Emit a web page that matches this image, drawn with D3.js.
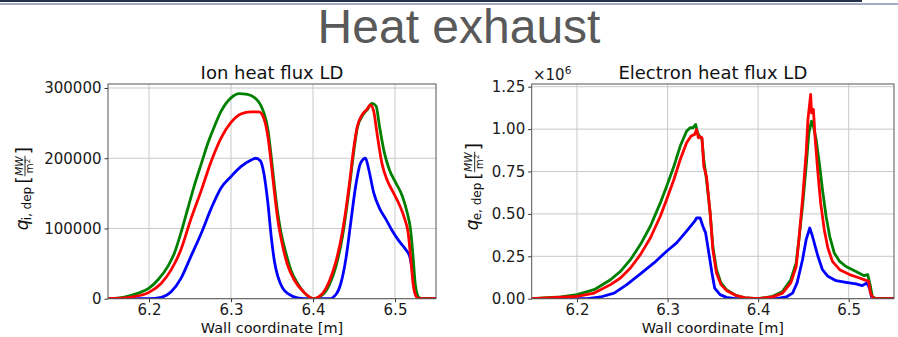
<!DOCTYPE html>
<html>
<head>
<meta charset="utf-8">
<script src="https://cdn.jsdelivr.net/npm/d3@7.9.0/dist/d3.min.js"></script>
<style>
  body { margin: 0; background: #fff; }
  svg { display: block; font-family: "DejaVu Sans", sans-serif; }
</style>
</head>
<body>
<svg id="chart" width="898" height="337"></svg>
<script>
// ---- data ----
const xTicks = [6.2, 6.3, 6.4, 6.5];
const ionTicks = [0, 100000, 200000, 300000];
const elTicks = [0, 0.25, 0.5, 0.75, 1.0, 1.25];

// ion heat flux [x, q]
const ionGreen = [[6.15,0],[6.17,2400],[6.187,8000],[6.2,15000],[6.211,27000],[6.223,46000],[6.231,65000],[6.239,94000],[6.247,127000],[6.255,160000],[6.264,193000],[6.272,222000],[6.28,246000],[6.288,267000],[6.3,286000],[6.31,292000],[6.32,291000],[6.33,285000],[6.336,276000],[6.34,265000],[6.345,241000],[6.349,203000],[6.353,160000],[6.357,122000],[6.361,94000],[6.367,65000],[6.373,41000],[6.381,22000],[6.389,9000],[6.395,3000],[6.4,0],[6.412,6000],[6.42,20000],[6.428,46000],[6.436,89000],[6.444,155000],[6.45,212000],[6.454,243000],[6.46,260000],[6.466,269000],[6.472,278000],[6.477,274000],[6.481,246000],[6.487,208000],[6.493,184000],[6.501,165000],[6.509,146000],[6.515,122000],[6.519,98000],[6.522,60000],[6.525,18000],[6.529,2000],[6.533,0],[6.55,0]];
const ionRed = [[6.15,0],[6.179,2400],[6.2,9000],[6.215,22000],[6.227,41000],[6.239,70000],[6.251,113000],[6.264,155000],[6.276,196000],[6.288,229000],[6.3,251000],[6.312,263000],[6.324,266000],[6.334,266000],[6.34,257000],[6.345,231000],[6.349,193000],[6.353,151000],[6.357,113000],[6.363,75000],[6.369,48000],[6.377,27000],[6.389,9000],[6.395,3000],[6.4,0],[6.412,8000],[6.42,25000],[6.428,53000],[6.436,96000],[6.444,160000],[6.45,217000],[6.454,245000],[6.46,262000],[6.466,270000],[6.47,276000],[6.474,267000],[6.478,236000],[6.484,193000],[6.49,170000],[6.498,151000],[6.506,132000],[6.512,113000],[6.516,94000],[6.519,60000],[6.522,22000],[6.526,3000],[6.53,0],[6.55,0]];
const ionBlue = [[6.15,0],[6.2,0],[6.215,2000],[6.227,10000],[6.239,29000],[6.251,60000],[6.264,94000],[6.276,129000],[6.288,158000],[6.3,174000],[6.312,188000],[6.324,197000],[6.33,200000],[6.336,196000],[6.34,179000],[6.345,136000],[6.349,89000],[6.353,53000],[6.357,32000],[6.363,15000],[6.371,6000],[6.381,1000],[6.39,0],[6.42,0],[6.428,6000],[6.434,22000],[6.44,56000],[6.446,108000],[6.452,160000],[6.458,193000],[6.464,200000],[6.468,184000],[6.474,151000],[6.481,129000],[6.489,113000],[6.497,96000],[6.505,82000],[6.513,70000],[6.518,60000],[6.521,41000],[6.524,18000],[6.527,3000],[6.531,0],[6.55,0]];

// electron heat flux [x, q / 1e6]
const elGreen = [[6.15,0],[6.182,0.01],[6.2,0.024],[6.219,0.053],[6.237,0.112],[6.248,0.161],[6.259,0.23],[6.27,0.319],[6.281,0.427],[6.292,0.565],[6.299,0.663],[6.307,0.781],[6.314,0.9],[6.321,0.988],[6.325,1.008],[6.328,1.008],[6.331,1.028],[6.333,0.98],[6.335,0.96],[6.338,0.94],[6.34,0.82],[6.343,0.7],[6.347,0.506],[6.35,0.309],[6.354,0.171],[6.359,0.093],[6.365,0.053],[6.376,0.018],[6.387,0.004],[6.4,0],[6.416,0.014],[6.427,0.043],[6.436,0.112],[6.442,0.211],[6.445,0.348],[6.449,0.545],[6.453,0.781],[6.456,0.978],[6.459,1.047],[6.461,1.018],[6.464,0.94],[6.468,0.78],[6.471,0.644],[6.475,0.486],[6.479,0.368],[6.484,0.27],[6.49,0.22],[6.497,0.19],[6.508,0.161],[6.517,0.136],[6.521,0.142],[6.524,0.073],[6.526,0.014],[6.53,0],[6.55,0]];
const elRed = [[6.15,0],[6.2,0.014],[6.219,0.033],[6.237,0.083],[6.248,0.122],[6.259,0.181],[6.27,0.26],[6.281,0.358],[6.292,0.486],[6.299,0.585],[6.307,0.703],[6.314,0.821],[6.321,0.919],[6.326,0.959],[6.33,0.969],[6.332,0.998],[6.334,0.949],[6.336,0.955],[6.338,0.949],[6.34,0.78],[6.343,0.72],[6.347,0.506],[6.35,0.289],[6.354,0.152],[6.359,0.083],[6.365,0.049],[6.376,0.018],[6.387,0.004],[6.4,0],[6.416,0.01],[6.427,0.033],[6.436,0.093],[6.442,0.19],[6.445,0.348],[6.449,0.585],[6.453,0.86],[6.455,1.057],[6.458,1.205],[6.459,1.096],[6.461,1.116],[6.463,0.94],[6.466,0.742],[6.469,0.565],[6.473,0.407],[6.477,0.299],[6.482,0.22],[6.49,0.171],[6.501,0.142],[6.512,0.122],[6.519,0.108],[6.522,0.102],[6.524,0.033],[6.527,0.004],[6.53,0],[6.55,0]];
const elBlue = [[6.15,0],[6.212,0],[6.226,0.01],[6.241,0.033],[6.255,0.083],[6.27,0.146],[6.285,0.211],[6.299,0.28],[6.31,0.329],[6.321,0.398],[6.33,0.457],[6.332,0.476],[6.336,0.476],[6.339,0.427],[6.342,0.388],[6.345,0.289],[6.349,0.152],[6.352,0.063],[6.358,0.024],[6.365,0.008],[6.375,0],[6.42,0],[6.431,0.01],[6.438,0.033],[6.443,0.093],[6.449,0.23],[6.453,0.348],[6.457,0.417],[6.46,0.368],[6.466,0.25],[6.471,0.171],[6.477,0.132],[6.486,0.106],[6.497,0.096],[6.508,0.087],[6.515,0.077],[6.52,0.093],[6.523,0.063],[6.525,0.014],[6.528,0],[6.55,0]];

const svg = d3.select('#chart');

// slide header bars + title
svg.append('rect').attr('x', 0).attr('y', 0).attr('width', 862).attr('height', 2).attr('fill', '#22324f');
svg.append('rect').attr('x', 0).attr('y', 3).attr('width', 898).attr('height', 2).attr('fill', '#a3abc6');
svg.append('text')
  .attr('x', 459).attr('y', 43)
  .attr('text-anchor', 'middle')
  .style('font-family', '"Liberation Sans", Arial, sans-serif')
  .style('font-size', '48px')
  .attr('fill', '#595959')
  .text('Heat exhaust');

function drawPanel(opts) {
  const { left, right, top, bottom, yMax, yTicks, yFmt, title, sub, series, curve, id } = opts;
  const x = d3.scaleLinear().domain([6.15, 6.55]).range([left, right]);
  const y = d3.scaleLinear().domain([0, yMax]).range([bottom, top]);
  const g = svg.append('g');

  g.append('clipPath').attr('id', id)
    .append('rect').attr('x', left).attr('y', top).attr('width', right - left).attr('height', bottom - top);

  // grid
  g.selectAll('.gx').data(xTicks).join('line')
    .attr('x1', d => x(d)).attr('x2', d => x(d)).attr('y1', top).attr('y2', bottom)
    .attr('stroke', '#c9c9c9').attr('stroke-width', 1);
  g.selectAll('.gy').data(yTicks).join('line')
    .attr('x1', left).attr('x2', right).attr('y1', d => y(d)).attr('y2', d => y(d))
    .attr('stroke', '#c9c9c9').attr('stroke-width', 1);

  // curves
  const line = d3.line().x(d => x(d[0])).y(d => y(d[1])).curve(curve);
  series.forEach(s => {
    g.append('path')
      .attr('d', line(s.data))
      .attr('fill', 'none')
      .attr('stroke', s.color)
      .attr('stroke-width', 2.8)
      .attr('stroke-linejoin', 'round')
      .attr('clip-path', `url(#${id})`);
  });

  // axes
  const xAxis = d3.axisBottom(x).tickValues(xTicks).tickSize(3.5).tickPadding(2).tickFormat(d3.format('.1f'));
  const yAxis = d3.axisLeft(y).tickValues(yTicks).tickSize(3.5).tickPadding(3).tickFormat(yFmt);
  const ax = g.append('g').attr('transform', `translate(0,${bottom})`).call(xAxis);
  const ay = g.append('g').attr('transform', `translate(${left},0)`).call(yAxis);
  [ax, ay].forEach(a => {
    a.select('.domain').remove();
    a.selectAll('text').attr('fill', '#1a1a1a').style('font-size', '15px').style('font-family', '"DejaVu Sans", sans-serif');
    a.selectAll('line').attr('stroke', '#333');
  });

  // frame
  g.append('rect').attr('x', left).attr('y', top).attr('width', right - left).attr('height', bottom - top)
    .attr('fill', 'none').attr('stroke', '#555').attr('stroke-width', 1);

  g.append('text').attr('x', (left + right) / 2).attr('y', 79)
    .attr('text-anchor', 'middle').style('font-size', '18px').attr('fill', '#111').text(title);
  g.append('text').attr('x', (left + right) / 2).attr('y', 333)
    .attr('text-anchor', 'middle').style('font-size', '14.5px').attr('fill', '#111').text('Wall coordinate [m]');

  // y label: q_{sub, dep} [MW/m^2]
  const lx = left - opts.labelGap;
  const lab = g.append('g').attr('transform', `translate(${lx},${(top + bottom) / 2}) rotate(-90)`).attr('fill', '#111');
  const s0 = -39;
  lab.append('text').attr('x', s0).attr('y', 0).style('font-size', '17px').style('font-style', 'italic').text('q');
  const subT = lab.append('text').attr('x', s0 + 10).attr('y', 3).style('font-size', '12px').text(sub + ', dep');
  const subW = subT.node().getComputedTextLength();
  const bx = s0 + 10 + subW + 3;
  lab.append('text').attr('x', bx).attr('y', 2).style('font-size', '19px').text('[');
  const fx = bx + 8;
  const num = lab.append('text').attr('x', fx).attr('y', -5.5).style('font-size', '10.5px').style('font-style', 'italic').text('MW');
  const nw = num.node().getComputedTextLength();
  lab.append('line').attr('x1', fx - 0.5).attr('x2', fx + nw + 0.5).attr('y1', -3).attr('y2', -3).attr('stroke', '#111').attr('stroke-width', 0.9);
  const den = lab.append('text').attr('x', fx + nw / 2).attr('y', 5).attr('text-anchor', 'middle').style('font-size', '10.5px').text('m');
  den.append('tspan').attr('dy', -3.5).style('font-size', '7px').text('2');
  lab.append('text').attr('x', fx + nw + 2).attr('y', 2).style('font-size', '19px').text(']');

  return { x, y, g };
}

drawPanel({
  id: 'clipIon', left: 108, right: 436, top: 84, bottom: 298.7,
  yMax: 305700, yTicks: ionTicks, yFmt: d3.format('d'),
  title: 'Ion heat flux LD', sub: 'i', labelGap: 80,
  curve: d3.curveMonotoneX,
  series: [
    { data: ionBlue, color: '#0000ff' },
    { data: ionGreen, color: '#008000' },
    { data: ionRed, color: '#ff0000' }
  ]
});

const right = drawPanel({
  id: 'clipEl', left: 531.7, right: 894, top: 84, bottom: 298.7,
  yMax: 1.266, yTicks: elTicks, yFmt: d3.format('.2f'),
  title: 'Electron heat flux LD', sub: 'e', labelGap: 54,
  curve: d3.curveLinear,
  series: [
    { data: elBlue, color: '#0000ff' },
    { data: elGreen, color: '#008000' },
    { data: elRed, color: '#ff0000' }
  ]
});

// offset text for the electron axis
const off = right.g.append('text').attr('x', 533).attr('y', 80).style('font-size', '15px').attr('fill', '#1a1a1a').text('×10');
off.append('tspan').attr('dy', -6).style('font-size', '10.5px').text('6');
</script>
</body>
</html>
